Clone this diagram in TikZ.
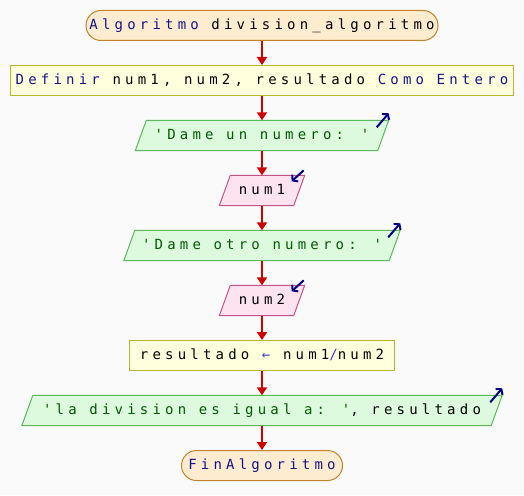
\documentclass[tikz,border=0pt]{standalone}
\usepackage{fontspec}
\usetikzlibrary{arrows.meta}
\newfontfamily\flowmono[LetterSpace=30,Ligatures=TeXOff]{DejaVu Sans Mono}
\definecolor{bgc}{RGB}{250,250,250}
\definecolor{kw}{RGB}{20,20,140}
\definecolor{strc}{RGB}{0,90,0}
\definecolor{opc}{RGB}{60,60,200}
\definecolor{termfill}{RGB}{253,236,208}
\definecolor{termdraw}{RGB}{196,130,45}
\definecolor{procfill}{RGB}{255,255,222}
\definecolor{procdraw}{RGB}{190,180,50}
\definecolor{outfill}{RGB}{222,250,222}
\definecolor{outdraw}{RGB}{90,185,90}
\definecolor{infill}{RGB}{253,226,240}
\definecolor{indraw}{RGB}{195,85,135}
\definecolor{flowc}{RGB}{204,0,0}
\definecolor{ioc}{RGB}{0,0,128}
\pgfdeclarelayer{bg}
\pgfsetlayers{bg,main}
\newcommand{\drawpara}[3]{%
  \begin{pgfonlayer}{bg}
  \draw[draw=#2,fill=#3,line width=1pt] ([xshift=-5.5pt]#1.south west) -- ([xshift=5.5pt]#1.north west) -- ([xshift=5.5pt]#1.north east) -- ([xshift=-5.5pt]#1.south east) -- cycle;
  \end{pgfonlayer}}
\begin{document}
\begin{tikzpicture}[x=1pt,y=-1pt,
  base/.style={font=\flowmono\fontsize{14}{16}\selectfont, text height=10.5pt, text depth=3pt, inner sep=0pt, minimum height=30pt},
  term/.style={base, draw=termdraw, fill=termfill, rounded corners=15pt, line width=1pt},
  proc/.style={base, draw=procdraw, fill=procfill, line width=1pt},
  para/.style={base},
  flowline/.style={draw=flowc, line width=2pt, -{Triangle[length=8pt,width=10pt]}},
  ioline/.style={draw=ioc, line width=2pt, -{Straight Barb[length=3.5pt,width=9pt]}}]
\begin{pgfonlayer}{bg}
\fill[bgc] (0,0) rectangle (524,495);
\end{pgfonlayer}
\useasboundingbox (0,0) rectangle (524,495);

\node[term, minimum width=352pt] (n1) at (262,25.5) {\textcolor{kw}{Algoritmo} division\_algoritmo};
\node[proc, minimum width=503pt] (n2) at (262,80.5) {\textcolor{kw}{Definir} num1, num2, resultado \textcolor{kw}{Como Entero}};
\node[para, minimum width=242pt] (n3) at (262,135.5) {\textcolor{strc}{'Dame un numero: '}};
\node[para, minimum width=74pt] (n4) at (262,190.5) {num1};
\node[para, minimum width=265pt] (n5) at (262,245.5) {\textcolor{strc}{'Dame otro numero: '}};
\node[para, minimum width=74pt] (n6) at (262,300.5) {num2};
\node[proc, minimum width=265pt] (n7) at (262,355.5) {resultado \textcolor{opc}{←} num1\textcolor{opc}{/}num2};
\node[para, minimum width=469pt] (n8) at (262,410.5) {\textcolor{strc}{'la division es igual a: '}, resultado};
\node[term, minimum width=161pt] (n9) at (262,465.5) {\textcolor{kw}{FinAlgoritmo}};

\drawpara{n3}{outdraw}{outfill}
\drawpara{n5}{outdraw}{outfill}
\drawpara{n8}{outdraw}{outfill}
\drawpara{n4}{indraw}{infill}
\drawpara{n6}{indraw}{infill}

\draw[flowline] (n1) -- (n2);
\draw[flowline] (n2) -- (n3);
\draw[flowline] (n3) -- (n4);
\draw[flowline] (n4) -- (n5);
\draw[flowline] (n5) -- (n6);
\draw[flowline] (n6) -- (n7);
\draw[flowline] (n7) -- (n8);
\draw[flowline] (n8) -- (n9);

\foreach \n in {n3,n5,n8} {
  \coordinate (\n tail) at ([xshift=-6.5pt,yshift=-7pt]\n.north east);
  \coordinate (\n head) at ([xshift=5.5pt,yshift=7pt]\n.north east);
  \draw[ioline] (\n tail) -- (\n head);
}
\foreach \n in {n4,n6} {
  \coordinate (\n tail) at ([xshift=4.5pt,yshift=5pt]\n.north east);
  \coordinate (\n head) at ([xshift=-7.5pt,yshift=-6pt]\n.north east);
  \draw[ioline] (\n tail) -- (\n head);
}
\end{tikzpicture}
\end{document}
